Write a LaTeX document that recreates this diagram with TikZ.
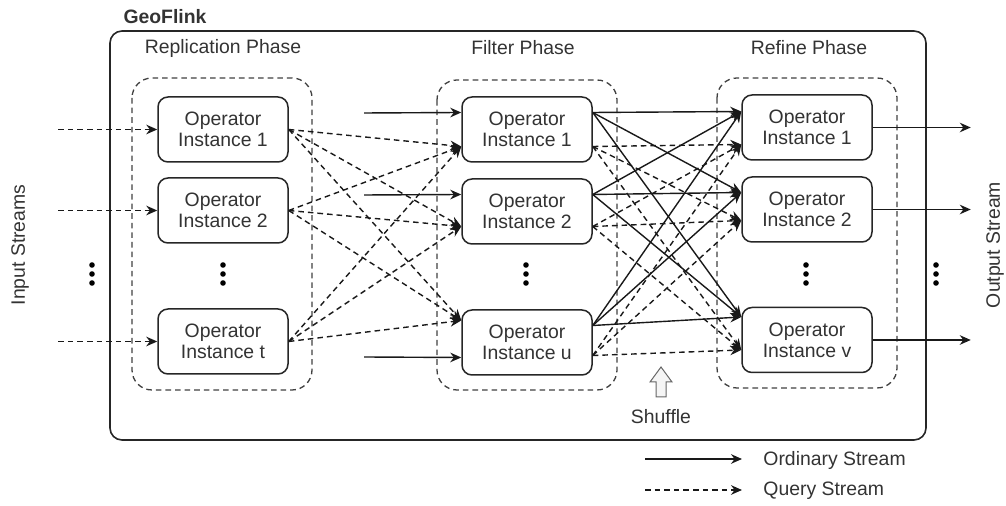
\documentclass[tikz,border=0pt]{standalone}
\usepackage{fontspec}
\setmainfont{Liberation Sans}
\usetikzlibrary{arrows.meta,calc}
\newcommand{\optext}{\fontsize{9.7}{10.5}\selectfont}
\begin{document}
\begin{tikzpicture}[x=0.5pt,y=-0.5pt,
  op/.style={draw=black!85, rounded corners=5pt, minimum width=65pt, minimum height=32.5pt, inner sep=1pt, align=center, fill=white, line width=0.75pt, font=\optext, text=black!80},
  grp/.style={draw=black!75, dash pattern=on 2.8pt off 2pt, rounded corners=10pt, line width=0.65pt},
  ordl/.style={-{Stealth[length=5.5pt,width=4.8pt]}, line width=0.7pt, black!90},
  qryl/.style={ordl, dash pattern=on 2.8pt off 2pt},
  lbl/.style={font=\optext, text=black!80, inner sep=0pt},
  dotc/.style={circle, fill=black, inner sep=0pt, minimum size=2.8pt}]
\useasboundingbox (0,0) rectangle (1006,506);

% outer box and groups
\draw[line width=0.8pt, black!85, rounded corners=6pt] (110,31) rectangle (926,440);
\node[lbl, font=\optext\bfseries] (geo) at (165,17) {GeoFlink};
\node[lbl] (repl) at (223,48) {Replication Phase};
\node[lbl] (filt) at (523,48) {Filter Phase};
\node[lbl] (refl) at (809,48) {Refine Phase};
\draw[grp] (132,78) rectangle (312,390);
\draw[grp] (437,80) rectangle (617,390);
\draw[grp] (717,78) rectangle (897,388);

% operator nodes
\node[op] (A1) at (223,129.5) {Operator\\Instance 1};
\node[op] (A2) at (223,210.5) {Operator\\Instance 2};
\node[op] (At) at (223,341.5) {Operator\\Instance t};
\node[op] (F1) at (527,129.5) {Operator\\Instance 1};
\node[op] (F2) at (527,211.5) {Operator\\Instance 2};
\node[op] (Fu) at (527,342.5) {Operator\\Instance u};
\node[op] (R1) at (807,127.5) {Operator\\Instance 1};
\node[op] (R2) at (807,209.5) {Operator\\Instance 2};
\node[op] (Rv) at (807,340) {Operator\\Instance v};

% dots
\foreach \xx/\nm in {92/a,223/b,526/c,806/d,936/e}{
  \node[dotc] (\nm1) at (\xx,265) {};
  \node[dotc] (\nm2) at (\xx,274) {};
  \node[dotc] (\nm3) at (\xx,283) {};
}

% ports
\coordinate (F1s) at ($(F1.west)+(0,-17)$);
\coordinate (F1q) at ($(F1.west)+(0,17)$);
\coordinate (F2s) at ($(F2.west)+(0,-17)$);
\coordinate (F2q) at ($(F2.west)+(0,15)$);
\coordinate (Fus) at ($(Fu.west)+(0,15)$);
\coordinate (Fuq) at ($(Fu.west)+(0,-22)$);
\coordinate (F1so) at ($(F1.east)+(0,-17)$);
\coordinate (F1qo) at ($(F1.east)+(0,17)$);
\coordinate (F2so) at ($(F2.east)+(0,-17)$);
\coordinate (F2qo) at ($(F2.east)+(0,15)$);
\coordinate (Fuso) at ($(Fu.east)+(0,-17)$);
\coordinate (Fuqo) at ($(Fu.east)+(0,13)$);
\coordinate (R1s) at ($(R1.west)+(0,-16)$);
\coordinate (R1q) at ($(R1.west)+(0,17)$);
\coordinate (R2s) at ($(R2.west)+(0,-17)$);
\coordinate (R2q) at ($(R2.west)+(0,11)$);
\coordinate (Rvs) at ($(Rv.west)+(0,-23)$);
\coordinate (Rvq) at ($(Rv.west)+(0,10)$);

% input streams
\foreach \n in {A1,A2,At}{
  \coordinate (I\n) at ($(\n.west)+(-99,0)$);
  \draw[qryl] (I\n) -- (\n.west);
}
% replication -> filter (query)
\foreach \a in {A1,A2,At}{
  \foreach \f in {F1q,F2q,Fuq}{
    \draw[qryl] (\a.east) -- (\f);
  }
}
% ordinary input to filter
\coordinate (S1) at (364,113);
\coordinate (S2) at (364,195);
\coordinate (S3) at (364,357);
\draw[ordl] (S1) -- (F1s);
\draw[ordl] (S2) -- (F2s);
\draw[ordl] (S3) -- (Fus);
% filter -> refine
\foreach \f in {F1so,F2so,Fuso}{
  \foreach \r in {R1s,R2s,Rvs}{
    \draw[ordl] (\f) -- (\r);
  }
}
\foreach \f in {F1qo,F2qo,Fuqo}{
  \foreach \r in {R1q,R2q,Rvq}{
    \draw[qryl] (\f) -- (\r);
  }
}
% outputs
\foreach \n in {R1,R2,Rv}{
  \coordinate (O\n) at ($(\n.east)+(98,0)$);
  \draw[ordl] (\n.east) -- (O\n);
}

% side labels
\node[lbl, rotate=90] (inl) at (20,245) {Input Streams};
\node[lbl, rotate=90] (outl) at (995,245) {Output Stream};

% shuffle
\draw[line width=0.5pt, draw=black!60, fill=black!4, line join=miter]
  (661,367) -- (672,382) -- (666,382) -- (666,397) -- (656,397) -- (656,382) -- (650,382) -- cycle;
\node[lbl] (shuf) at (661,417) {Shuffle};

% legend
\coordinate (L1a) at (645,459); \coordinate (L1b) at (742,459);
\coordinate (L2a) at (645,490); \coordinate (L2b) at (742,490);
\draw[ordl] (L1a) -- (L1b);
\draw[qryl] (L2a) -- (L2b);
\node[lbl, anchor=west] (ordt) at (763,460) {Ordinary Stream};
\node[lbl, anchor=west] (qryt) at (763,491) {Query Stream};
\end{tikzpicture}
\end{document}
